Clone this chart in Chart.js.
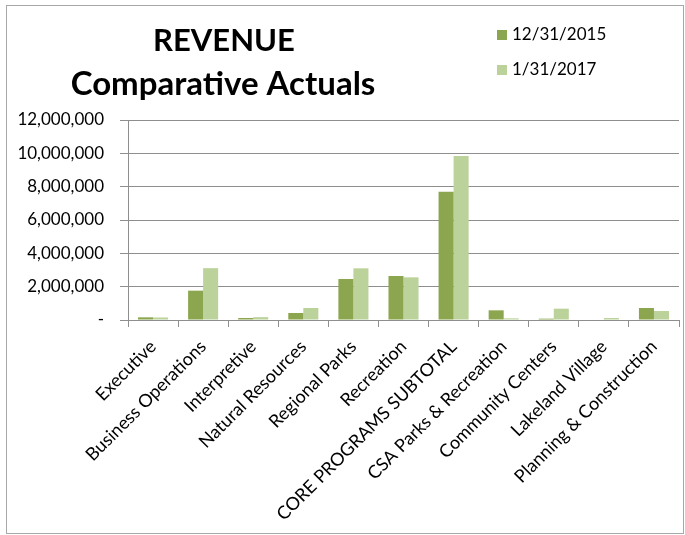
<!DOCTYPE html>
<html>
<head>
<meta charset="utf-8">
<script src="https://cdn.jsdelivr.net/npm/chart.js@4"></script>
<style>
    body { margin: 0; background: #fff; }
    canvas { display: block; }
</style>
</head>
<body>
<canvas id="revenueChart" width="685" height="535"></canvas>
<script>
// Revenue comparison chart: two periods side by side for each program

const categories = [
    'Executive', 'Business Operations', 'Interpretive', 'Natural Resources',
    'Regional Parks', 'Recreation', 'CORE PROGRAMS SUBTOTAL', 'CSA Parks & Recreation',
    'Community Centers', 'Lakeland Village', 'Planning & Construction'
];
const seriesLabels = ['12/31/2015', '1/31/2017'];
const actuals2015 = [160000, 1760000, 120000, 420000, 2460000, 2640000, 7700000, 580000, 80000, 0, 720000];
const actuals2017 = [150000, 3110000, 170000, 720000, 3100000, 2560000, 9840000, 100000, 680000, 120000, 540000];
const yTicks = [0, 2000000, 4000000, 6000000, 8000000, 10000000, 12000000];
const titleLines = ['REVENUE', 'Comparative Actuals'];

const FONT = 'Lato, "Liberation Sans", sans-serif';
const DARK = '#8ba64e';
const LIGHT = '#bbd29a';
const GRID = '#8e8e8e';

// Draws the frame, title and legend the way the spreadsheet laid them out
const decorations = {
    id: 'decorations',
    afterDraw(chart) {
        const ctx = chart.ctx;
        ctx.save();
        ctx.strokeStyle = '#a8a8a8';
        ctx.lineWidth = 1;
        ctx.strokeRect(6.5, 5.5, 677, 528);

        ctx.fillStyle = '#000';
        ctx.textAlign = 'center';
        ctx.textBaseline = 'middle';
        ctx.font = 'bold 31px ' + FONT;
        ctx.fillText(titleLines[0], 224, 41);
        ctx.font = 'bold 33px ' + FONT;
        ctx.fillText(titleLines[1], 223, 84);

        ctx.textAlign = 'left';
        ctx.font = '17px ' + FONT;
        chart.data.datasets.forEach((ds, i) => {
            const y = 35 + i * 35;
            ctx.fillStyle = ds.backgroundColor;
            ctx.fillRect(497, y - 5, 10, 10);
            ctx.fillStyle = '#000';
            ctx.fillText(ds.label, 512, y);
        });
        ctx.restore();
    }
};

new Chart(document.getElementById('revenueChart'), {
    type: 'bar',
    data: {
        labels: categories,
        datasets: [
            { label: seriesLabels[0], data: actuals2015, backgroundColor: DARK },
            { label: seriesLabels[1], data: actuals2017, backgroundColor: LIGHT }
        ]
    },
    options: {
        responsive: false,
        animation: false,
        categoryPercentage: 0.6,
        barPercentage: 1.0,
        layout: { padding: { left: 0, right: 6, top: 120, bottom: 0 } },
        plugins: {
            legend: { display: false },
            title: { display: false },
            tooltip: { enabled: false }
        },
        scales: {
            x: {
                grid: { offset: true, drawOnChartArea: false, drawTicks: true, tickLength: 7, color: GRID },
                border: { color: GRID },
                ticks: {
                    autoSkip: false, minRotation: 45, maxRotation: 45,
                    color: '#000', font: { family: FONT, size: 18 }, padding: 9
                },
                afterFit(scale) { scale.height = 215; }
            },
            y: {
                min: 0,
                max: 12000000,
                afterBuildTicks(scale) { scale.ticks = yTicks.map(v => ({ value: v })); },
                grid: { color: GRID, tickLength: 8 },
                border: { color: GRID },
                ticks: {
                    color: '#000', font: { family: FONT, size: 17 }, padding: 16,
                    callback: v => v === 0 ? '-' : v.toLocaleString('en-US')
                },
                afterFit(scale) { scale.width = 128; }
            }
        }
    },
    plugins: [decorations]
});
</script>
</body>
</html>
